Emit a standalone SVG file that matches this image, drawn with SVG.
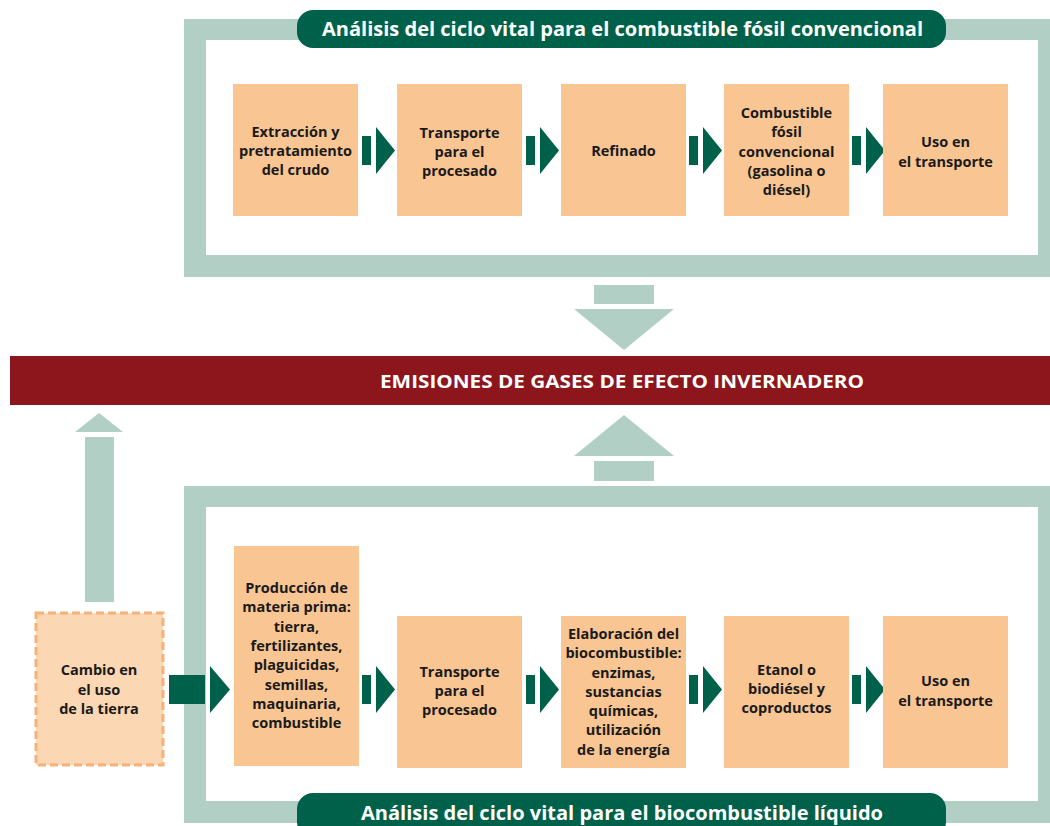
<svg xmlns="http://www.w3.org/2000/svg" width="1050" height="826" viewBox="0 0 1050 826">
<defs>
<style>
.frame{fill:#B2CFC6}
.inner{fill:#FFFFFF}
.pill{fill:#00614A}
.pilltxt{font-family:"Open Sans","Liberation Sans",sans-serif;font-weight:bold;font-size:20px;fill:#FFFFFF}
.box{fill:#F8C593}
.txt{font-family:"Open Sans","Liberation Sans",sans-serif;font-weight:bold;font-size:14.5px;fill:#1A1A1A;text-anchor:middle}
.arr{fill:#00614A}
.lg{fill:#B2CFC6}
.band{fill:#8C161C}
.bandtxt{font-family:"Open Sans","Liberation Sans",sans-serif;font-weight:bold;font-size:18px;fill:#FFFFFF}
.dash{fill:#FBD7B3;stroke:#F4B27A;stroke-width:3;stroke-dasharray:8 4}
</style>
</defs>
<rect width="1050" height="826" fill="#FFFFFF"/>

<g id="frame-top">
<rect class="frame" x="184" y="19" width="876" height="258"/>
<rect class="inner" x="206" y="40" width="832" height="215"/>
<rect class="pill" x="297" y="10" width="649" height="38" rx="16"/>
<text class="pilltxt" x="322" y="36" textLength="601" lengthAdjust="spacingAndGlyphs">Análisis del ciclo vital para el combustible fósil convencional</text>
</g>

<g id="frame-bottom">
<rect class="frame" x="184" y="486" width="876" height="337"/>
<rect class="inner" x="206" y="507" width="832" height="294"/>
<rect class="pill" x="297" y="793" width="649" height="45" rx="16"/>
<text class="pilltxt" x="361" y="820" textLength="522" lengthAdjust="spacingAndGlyphs">Análisis del ciclo vital para el biocombustible líquido</text>
</g>

<g id="emisiones">
<rect class="band" x="10" y="356" width="1040" height="49"/>
<text class="bandtxt" x="380" y="388" textLength="484" lengthAdjust="spacingAndGlyphs">EMISIONES DE GASES DE EFECTO INVERNADERO</text>
</g>

<g id="connectors">
<!-- top row arrows -->
<rect class="arr" x="362" y="136" width="9" height="29"/><polygon class="arr" points="376,127 395,150.5 376,174"/>
<rect class="arr" x="526" y="136" width="9" height="29"/><polygon class="arr" points="540,127 559,150.5 540,174"/>
<rect class="arr" x="689" y="136" width="9" height="29"/><polygon class="arr" points="703,127 722,150.5 703,174"/>
<rect class="arr" x="852" y="136" width="9" height="29"/><polygon class="arr" points="866,127 885,150.5 866,174"/>
<!-- bottom row arrows -->
<rect class="arr" x="169" y="675" width="36" height="29"/><polygon class="arr" points="210,666 230,689.5 210,713"/>
<rect class="arr" x="362" y="675" width="9" height="29"/><polygon class="arr" points="376,666 395,689.5 376,713"/>
<rect class="arr" x="526" y="675" width="9" height="29"/><polygon class="arr" points="540,666 559,689.5 540,713"/>
<rect class="arr" x="689" y="675" width="9" height="29"/><polygon class="arr" points="703,666 722,689.5 703,713"/>
<rect class="arr" x="852" y="675" width="9" height="29"/><polygon class="arr" points="866,666 885,689.5 866,713"/>
<!-- emission arrows -->
<rect class="lg" x="594" y="285" width="60" height="19"/><polygon class="lg" points="574,309 674,309 624,350"/>
<polygon class="lg" points="624,415 674,456 574,456"/><rect class="lg" x="594" y="461" width="60" height="20"/>
<polygon class="lg" points="99,413 123,432 75,432"/><rect class="lg" x="85" y="437" width="29" height="165"/>
</g>

<g id="n-extraccion">
<rect class="box" x="233" y="84" width="125" height="132"/>
<text class="txt" x="295.5" y="137">Extracción y</text>
<text class="txt" x="295.5" y="156">pretratamiento</text>
<text class="txt" x="295.5" y="175">del crudo</text>
</g>
<g id="n-transporte1">
<rect class="box" x="397" y="84" width="125" height="132"/>
<text class="txt" x="459.5" y="138">Transporte</text>
<text class="txt" x="459.5" y="157">para el</text>
<text class="txt" x="459.5" y="176">procesado</text>
</g>
<g id="n-refinado">
<rect class="box" x="561" y="84" width="125" height="132"/>
<text class="txt" x="623.5" y="156">Refinado</text>
</g>
<g id="n-combustible">
<rect class="box" x="724" y="84" width="125" height="132"/>
<text class="txt" x="786.5" y="118">Combustible</text>
<text class="txt" x="786.5" y="137">fósil</text>
<text class="txt" x="786.5" y="156.5">convencional</text>
<text class="txt" x="786.5" y="175.5">(gasolina o</text>
<text class="txt" x="786.5" y="195">diésel)</text>
</g>
<g id="n-uso1">
<rect class="box" x="883" y="84" width="125" height="132"/>
<text class="txt" x="945.5" y="147">Uso en</text>
<text class="txt" x="945.5" y="167">el transporte</text>
</g>

<g id="n-cambio">
<rect class="dash" x="36" y="613" width="127" height="152"/>
<text class="txt" x="99" y="675">Cambio en</text>
<text class="txt" x="99" y="695">el uso</text>
<text class="txt" x="99" y="714">de la tierra</text>
</g>
<g id="n-produccion">
<rect class="box" x="234" y="546" width="125" height="220"/>
<text class="txt" x="296.5" y="593">Producción de</text>
<text class="txt" x="296.5" y="612.3">materia prima:</text>
<text class="txt" x="296.5" y="631.6">tierra,</text>
<text class="txt" x="296.5" y="651">fertilizantes,</text>
<text class="txt" x="296.5" y="670.3">plaguicidas,</text>
<text class="txt" x="296.5" y="689.6">semillas,</text>
<text class="txt" x="296.5" y="709">maquinaria,</text>
<text class="txt" x="296.5" y="728.3">combustible</text>
</g>
<g id="n-transporte2">
<rect class="box" x="397" y="616" width="125" height="152"/>
<text class="txt" x="459.5" y="676.5">Transporte</text>
<text class="txt" x="459.5" y="695.7">para el</text>
<text class="txt" x="459.5" y="715">procesado</text>
</g>
<g id="n-elaboracion">
<rect class="box" x="561" y="616" width="125" height="152"/>
<text class="txt" x="623.5" y="638.7">Elaboración del</text>
<text class="txt" x="623.5" y="658">biocombustible:</text>
<text class="txt" x="623.5" y="677.5">enzimas,</text>
<text class="txt" x="623.5" y="696.8">sustancias</text>
<text class="txt" x="623.5" y="716">químicas,</text>
<text class="txt" x="623.5" y="735.3">utilización</text>
<text class="txt" x="623.5" y="755">de la energía</text>
</g>
<g id="n-etanol">
<rect class="box" x="724" y="616" width="125" height="152"/>
<text class="txt" x="786.5" y="674.5">Etanol o</text>
<text class="txt" x="786.5" y="694.3">biodiésel y</text>
<text class="txt" x="786.5" y="713.3">coproductos</text>
</g>
<g id="n-uso2">
<rect class="box" x="883" y="616" width="125" height="152"/>
<text class="txt" x="945.5" y="686">Uso en</text>
<text class="txt" x="945.5" y="706">el transporte</text>
</g>
</svg>
